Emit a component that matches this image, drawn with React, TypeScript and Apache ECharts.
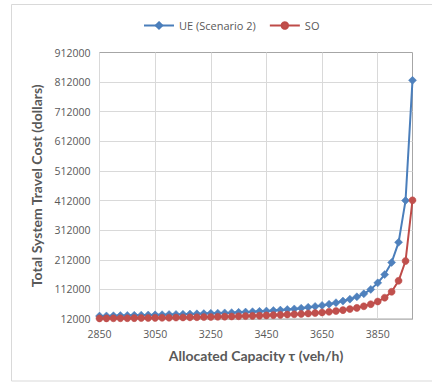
import React, { useEffect, useRef } from "react";
import * as echarts from "echarts";

const capacities = [
  "2850", "2875", "2900", "2925", "2950", "2975", "3000", "3025", "3050", "3075",
  "3100", "3125", "3150", "3175", "3200", "3225", "3250", "3275", "3300", "3325",
  "3350", "3375", "3400", "3425", "3450", "3475", "3500", "3525", "3550", "3575",
  "3600", "3625", "3650", "3675", "3700", "3725", "3750", "3775", "3800", "3825",
  "3850", "3875", "3900", "3925", "3950", "3975",
];

const ueScenario2 = [
  22000, 22500, 23000, 23500, 24000, 24500, 25000, 25500, 26000, 26500,
  27000, 27500, 28000, 28800, 29500, 30200, 31000, 31800, 32600, 33500,
  34500, 35500, 36600, 37800, 39000, 40500, 42000, 44000, 46000, 48500,
  51500, 54500, 58000, 62000, 67000, 72500, 79000, 87000, 97000, 112000,
  134000, 162000, 203000, 271000, 412000, 818000,
];

const so = [
  14000, 14200, 14400, 14600, 14800, 15000, 15300, 15600, 15900, 16200,
  16500, 16800, 17200, 17600, 18000, 18500, 19000, 19500, 20000, 20600,
  21200, 21900, 22600, 23400, 24200, 25100, 26000, 27000, 28000, 29200,
  30500, 32000, 34000, 36500, 39000, 42000, 45500, 49500, 55000, 62000,
  71000, 84000, 104000, 141000, 208000, 413000,
];

const yMin = 12000;
const yMax = 912000;
const yStep = 100000;

const FONT = "'Open Sans', sans-serif";
const TITLE_FONT = "Lato, 'Open Sans', sans-serif";

export default function App() {
  const ref = useRef<HTMLDivElement>(null);

  useEffect(() => {
    if (!ref.current) return;
    const chart = echarts.init(ref.current, null, { renderer: "svg" });
    chart.setOption({
      animation: false,
      backgroundColor: "#ffffff",
      textStyle: { fontFamily: FONT },
      graphic: [
        {
          type: "rect",
          shape: { x: 11.5, y: 4.5, width: 440, height: 376.5 },
          style: { fill: "none", stroke: "#d9d9d9", lineWidth: 1 },
          silent: true,
        },
      ],
      legend: {
        left: 138,
        top: 15,
        itemWidth: 30,
        itemHeight: 8,
        itemGap: 13,
        textStyle: { fontFamily: FONT, fontSize: 11, color: "#595959" },
        data: ["UE (Scenario 2)", "SO"],
      },
      grid: {
        left: 99.5,
        right: 19.5,
        top: 52.5,
        bottom: 64,
        show: true,
        borderColor: "#a6a6a6",
        borderWidth: 1,
        containLabel: false,
      },
      xAxis: {
        type: "category",
        data: capacities,
        boundaryGap: false,
        name: "Allocated Capacity τ (veh/h)",
        nameLocation: "middle",
        nameGap: 29,
        nameTextStyle: { fontFamily: TITLE_FONT, fontSize: 14, fontWeight: "bold", color: "#595959" },
        axisLine: { show: true, lineStyle: { color: "#bfbfbf" } },
        axisTick: { show: false },
        axisLabel: { interval: 7, fontSize: 10.5, color: "#595959", margin: 9, fontFamily: FONT },
        splitLine: { show: true, interval: 7, lineStyle: { color: "#d9d9d9", width: 1 } },
      },
      yAxis: {
        type: "value",
        min: yMin,
        max: yMax,
        interval: yStep,
        name: "Total System Travel Cost (dollars)",
        nameLocation: "middle",
        nameGap: 54,
        nameTextStyle: { fontFamily: TITLE_FONT, fontSize: 14, fontWeight: "bold", color: "#595959" },
        axisLine: { show: false },
        axisTick: { show: false },
        axisLabel: {
          fontSize: 10.5,
          color: "#595959",
          margin: 9,
          fontFamily: FONT,
          formatter: (v: number) => String(v),
        },
        splitLine: {
          show: true,
          showMinLine: false,
          showMaxLine: false,
          lineStyle: { color: "#d9d9d9", width: 1 },
        },
      },
      series: [
        {
          name: "UE (Scenario 2)",
          type: "line",
          data: ueScenario2,
          symbol: "diamond",
          symbolSize: 8,
          showAllSymbol: true,
          lineStyle: { color: "#4a7ebb", width: 2 },
          itemStyle: { color: "#4f81bd", borderColor: "#4a7ebb", borderWidth: 0.5 },
        },
        {
          name: "SO",
          type: "line",
          data: so,
          symbol: "circle",
          symbolSize: 7,
          showAllSymbol: true,
          lineStyle: { color: "#be4b48", width: 2 },
          itemStyle: { color: "#c0504d", borderColor: "#be4b48", borderWidth: 0.5 },
        },
      ],
    });
    return () => chart.dispose();
  }, []);

  return (
    <div
      ref={ref}
      style={{ position: "absolute", left: 0, top: 0, width: 432, height: 383 }}
    />
  );
}
